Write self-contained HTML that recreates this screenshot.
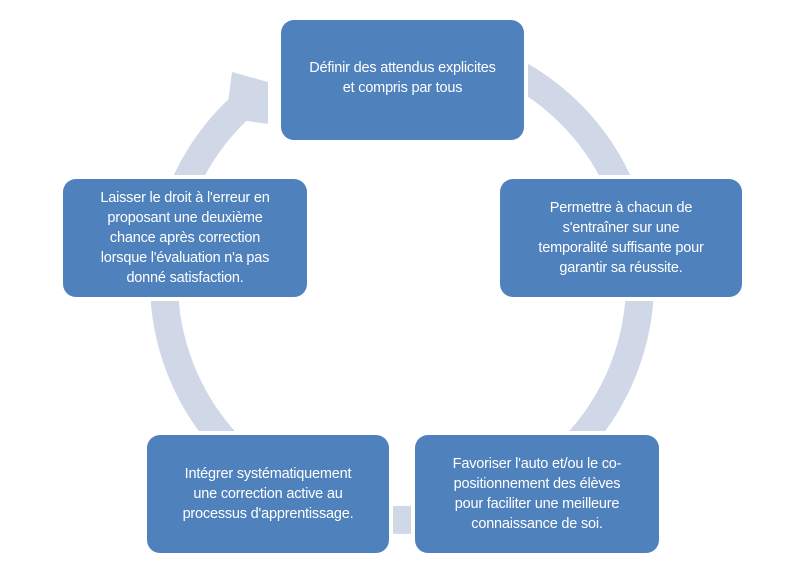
<!DOCTYPE html>
<html><head><meta charset="utf-8"><style>
html,body{margin:0;padding:0;background:#fff;}
.wrap{position:relative;width:800px;height:583px;overflow:hidden;font-family:"Liberation Sans",sans-serif;}
svg{position:absolute;left:0;top:0;}
.b{position:absolute;background:#4f81bd;border-radius:13px;color:#fff;font-size:14.5px;line-height:20px;text-align:center;display:flex;align-items:center;justify-content:center;box-sizing:border-box;padding:0 4px;box-shadow:0 0 0 4px #fff;letter-spacing:-0.2px;}
</style></head><body><div class="wrap">
<svg width="800" height="583">
<circle cx="402" cy="282" r="238" fill="none" stroke="#d0d8e8" stroke-width="28"/>
<polygon points="248,20 290,20 290,140 268,140 268,84 250,76" fill="#fff"/>
<polygon points="232,72 268,82 268,124 226,118" fill="#d0d8e8"/>
</svg>
<div class="b" style="left:281px;top:20px;width:243px;height:120px;align-items:flex-start;padding-top:38px;">Définir des attendus explicites<br>et compris par tous</div>
<div class="b" style="left:500px;top:179px;width:242px;height:118px;">Permettre à chacun de<br>s'entraîner sur une<br>temporalité suffisante pour<br>garantir sa réussite.</div>
<div class="b" style="left:63px;top:179px;width:244px;height:118px;">Laisser le droit à l'erreur en<br>proposant une deuxième<br>chance après correction<br>lorsque l'évaluation n'a pas<br>donné satisfaction.</div>
<div class="b" style="left:147px;top:435px;width:242px;height:118px;">Intégrer systématiquement<br>une correction active au<br>processus d'apprentissage.</div>
<div class="b" style="left:415px;top:435px;width:244px;height:118px;">Favoriser l'auto et/ou le co-<br>positionnement des élèves<br>pour faciliter une meilleure<br>connaissance de soi.</div>
</div></body></html>
